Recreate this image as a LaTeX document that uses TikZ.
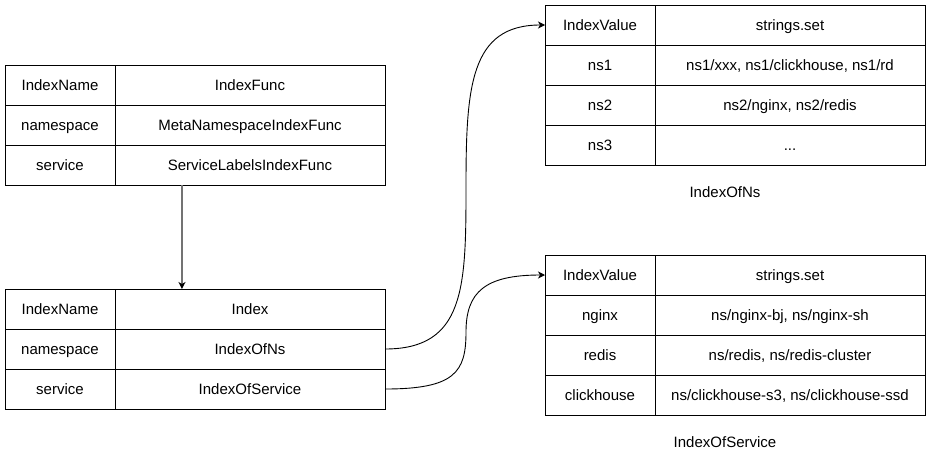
\documentclass[tikz,border=0pt]{standalone}
\usepackage{fontspec}
\setmainfont{Liberation Sans}
\usetikzlibrary{arrows.meta,calc}
\begin{document}
\begin{tikzpicture}[x=1pt,y=-1pt,
  cell/.style={draw=black,line width=1pt,rectangle,inner sep=0pt,outer sep=0pt,
    minimum height=40pt,text height=12.5pt,text depth=1.5pt,font=\fontsize{15}{18}\selectfont,anchor=center},
  keycell/.style={cell,minimum width=110pt},
  valcell/.style={cell,minimum width=270pt},
  lbl/.style={font=\fontsize{15}{18}\selectfont,inner sep=0pt,text height=12.5pt,text depth=1.5pt},
  tip/.style={-{Stealth[length=7pt,width=7pt,inset=2pt,black]}},
  link/.style={tip,draw=black,line width=0.9pt}]
\useasboundingbox (0,0) rectangle (931,461);
% Table 1
\node[keycell] (a1) at (60,85) {IndexName};
\node[valcell] (b1) at (250,85) {IndexFunc};
\node[keycell] (a2) at (60,125) {namespace};
\node[valcell] (b2) at (250,125) {MetaNamespaceIndexFunc};
\node[keycell] (a3) at (60,165) {service};
\node[valcell] (b3) at (250,165) {ServiceLabelsIndexFunc};
% Table 2
\node[keycell] (d1) at (60,309) {IndexName};
\node[valcell] (e1) at (250,309) {Index};
\node[keycell] (d2) at (60,349) {namespace};
\node[valcell] (e2) at (250,349) {IndexOfNs};
\node[keycell] (d3) at (60,389) {service};
\node[valcell] (e3) at (250,389) {IndexOfService};
% Table 3
\node[keycell] (f1) at (600,25) {IndexValue};
\node[valcell] (g1) at (790,25) {strings.set};
\node[keycell] (f2) at (600,65) {ns1};
\node[valcell] (g2) at (790,65) {ns1/xxx, ns1/clickhouse, ns1/rd};
\node[keycell] (f3) at (600,105) {ns2};
\node[valcell] (g3) at (790,105) {ns2/nginx, ns2/redis};
\node[keycell] (f4) at (600,145) {ns3};
\node[valcell] (g4) at (790,145) {.{}.{}.};
\node[lbl] (l1) at (725,192) {IndexOfNs};
% Table 4
\node[keycell] (h1) at (600,275) {IndexValue};
\node[valcell] (k1) at (790,275) {strings.set};
\node[keycell] (h2) at (600,315) {nginx};
\node[valcell] (k2) at (790,315) {ns/nginx-bj, ns/nginx-sh};
\node[keycell] (h3) at (600,355) {redis};
\node[valcell] (k3) at (790,355) {ns/redis, ns/redis-cluster};
\node[keycell] (h4) at (600,395) {clickhouse};
\node[valcell] (k4) at (790,395) {ns/clickhouse-s3, ns/clickhouse-ssd};
\node[lbl] (l2) at (725,442) {IndexOfService};
% vertical arrow
\coordinate (s) at ($(b3.south west)!0.248!(b3.south east)$);
\draw[tip,draw={rgb,255:red,115;green,115;blue,115},line width=1.6pt] (s) -- (s |- e1.north);
% curves
\coordinate (m1) at (466,187);
\coordinate (m2) at (466,332);
\draw[link] (e2.east) .. controls +(80,0) and +(0,100) .. (m1)
  .. controls +(0,-100) and +(-75,0) .. (f1.west);
\draw[link] (e3.east) .. controls +(70,0) and +(0,40) .. (m2)
  .. controls +(0,-40) and +(-60,0) .. (h1.west);
\end{tikzpicture}
\end{document}
